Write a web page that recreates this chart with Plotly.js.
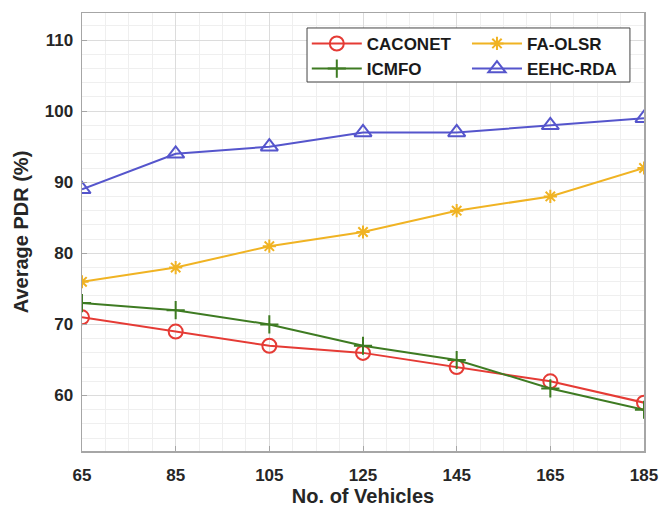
<!DOCTYPE html>
<html>
<head>
<meta charset="utf-8">
<script src="https://cdn.plot.ly/plotly-3.0.1.min.js"></script>
<style>html,body{margin:0;padding:0;background:#fff;}#chart{width:662px;height:512px;}</style>
</head>
<body>
<div id="chart"></div>
<script>
const vehicles = [65, 85, 105, 125, 145, 165, 185];
const caconet = [71, 69, 67, 66, 64, 62, 59];
const icmfo = [73, 72, 70, 67, 65, 61, 58];
const faOlsr = [76, 78, 81, 83, 86, 88, 92];
const eehcRda = [89, 94, 95, 97, 97, 98, 99];
const xTicks = [65, 85, 105, 125, 145, 165, 185];
const yTicks = [60, 70, 80, 90, 100, 110];

const font = "Liberation Sans, Arial, sans-serif";
function tr(name, y, color, symbol, size, legend) {
  return {
    x: vehicles, y: y, name: name, type: 'scatter', mode: 'lines+markers',
    line: {color: color, width: 2},
    marker: {symbol: symbol, size: size, color: color, line: {color: color, width: 2}},
    legend: legend
  };
}
const data = [
  tr('CACONET', caconet, '#e53b35', 'circle-open', 14, 'legend'),
  tr('ICMFO', icmfo, '#3e7b22', 'cross-thin-open', 13, 'legend'),
  tr('FA-OLSR', faOlsr, '#f0b323', 'asterisk-open', 11, 'legend2'),
  tr('EEHC-RDA', eehcRda, '#5555cc', 'triangle-up-open', 15, 'legend2')
];
const axisCommon = {
  showline: true, mirror: true, linecolor: '#a6a6a6', linewidth: 1.5,
  gridcolor: '#dcdcdc', gridwidth: 1, zeroline: false,
  ticks: 'inside', ticklen: 5, tickcolor: '#a6a6a6',
  tickfont: {family: font, size: 17, color: '#262626', weight: 'bold'}
};
const legendCommon = {
  orientation: 'v', yanchor: 'top', xanchor: 'left',
  bgcolor: 'rgba(0,0,0,0)', borderwidth: 0, itemwidth: 50, tracegroupgap: 0,
  font: {family: font, size: 17, color: '#1a1a1a', weight: 'bold'}
};
const layout = {
  width: 662, height: 512,
  margin: {l: 82, r: 18, t: 13, b: 61},
  paper_bgcolor: '#fff', plot_bgcolor: '#fff',
  showlegend: true,
  xaxis: Object.assign({}, axisCommon, {
    range: [65, 185], tickvals: xTicks, ticktext: xTicks.map(String),
    ticklabelstandoff: 8,
    minor: {dtick: 5, tick0: 65, showgrid: true, gridcolor: '#efefef', gridwidth: 1},
    title: {text: 'No. of Vehicles', font: {family: font, size: 20, color: '#262626', weight: 'bold'}, standoff: 4}
  }),
  yaxis: Object.assign({}, axisCommon, {
    range: [52.2, 113.8], tickvals: yTicks, ticktext: yTicks.map(String),
    ticklabelstandoff: 4,
    minor: {dtick: 2, tick0: 52, showgrid: true, gridcolor: '#efefef', gridwidth: 1},
    title: {text: 'Average PDR (%)', font: {family: font, size: 20, color: '#262626', weight: 'bold'}, standoff: 10}
  }),
  legend: Object.assign({}, legendCommon, {x: 0.400, y: 0.9705}),
  legend2: Object.assign({}, legendCommon, {x: 0.685, y: 0.9705}),
  shapes: [{
    type: 'rect', xref: 'paper', yref: 'paper',
    x0: 0.4004, x1: 0.975, y0: 0.8425, y1: 0.9658,
    fillcolor: '#ffffff', line: {color: '#444444', width: 1}, layer: 'above'
  }]
};
Plotly.newPlot('chart', data, layout, {displayModeBar: false, staticPlot: true});
</script>
</body>
</html>
